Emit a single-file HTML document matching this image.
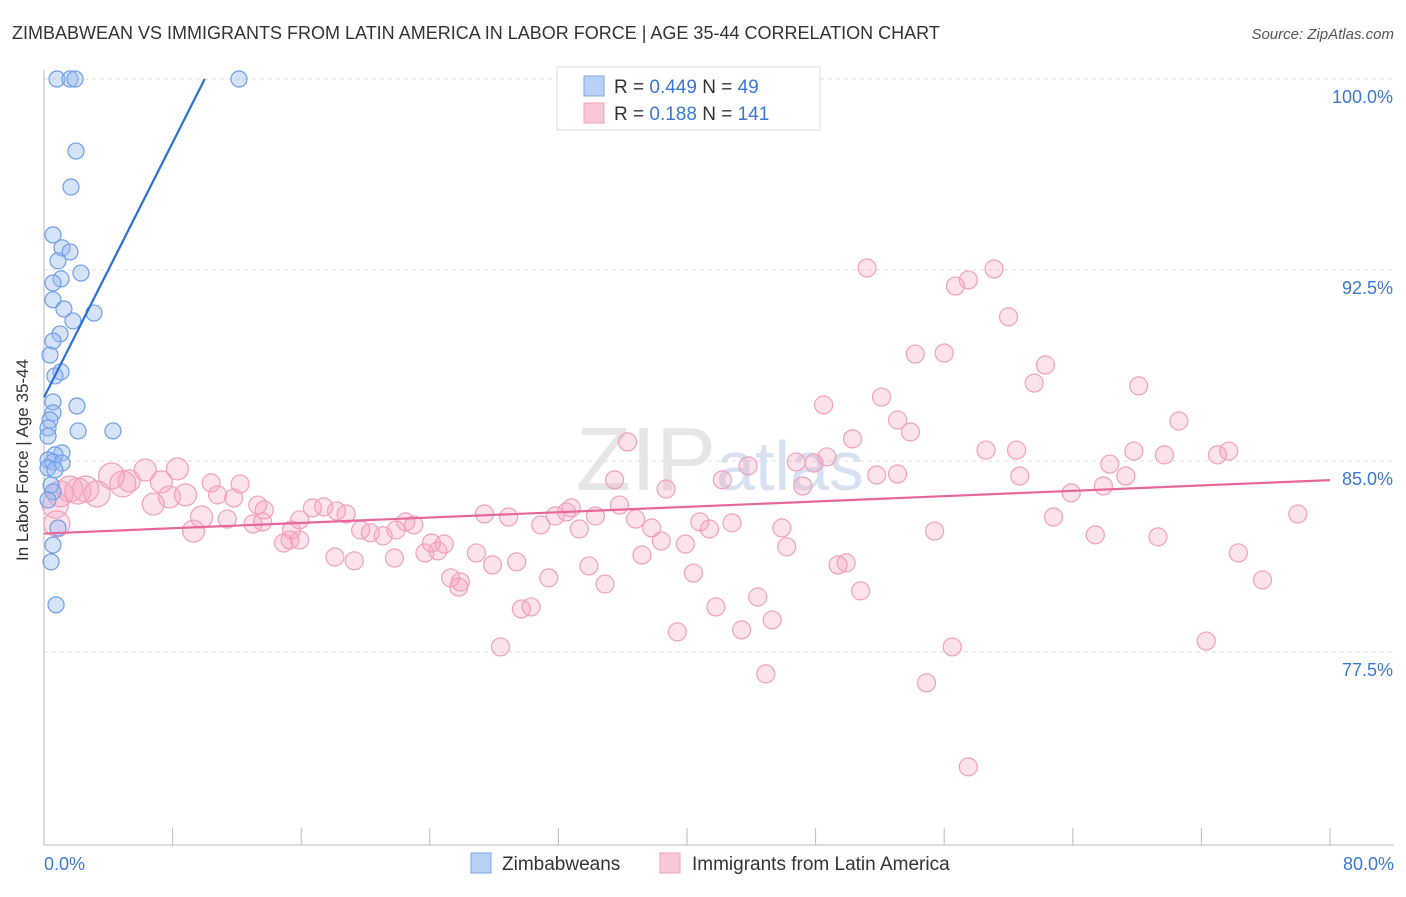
<!DOCTYPE html>
<html><head><meta charset="utf-8"><style>
body{margin:0;background:#fff;font-family:"Liberation Sans",sans-serif;}
svg text{font-family:"Liberation Sans",sans-serif;}
</style></head><body>
<svg id="chart" width="1406" height="892">
<text x="12" y="39" font-size="18" fill="#333">ZIMBABWEAN VS IMMIGRANTS FROM LATIN AMERICA IN LABOR FORCE | AGE 35-44 CORRELATION CHART</text>
<text x="1394" y="39" font-size="15" fill="#555" font-style="italic" text-anchor="end">Source: ZipAtlas.com</text>
<text x="720" y="490" font-size="90" fill="#e6e6e6" text-anchor="middle" font-family="Liberation Serif">ZIP<tspan font-family="Liberation Sans" font-size="70" fill="#d6e2f2">atlas</tspan></text>
<g id="grid"></g>
<g id="axes"></g>
<g id="pink"></g>
<g id="blue"></g>
<g id="lines"></g>
<text x="28" y="460" font-size="17" fill="#333" text-anchor="middle" transform="rotate(-90 28 460)">In Labor Force | Age 35-44</text>
<g>
<rect x="557" y="67" width="263" height="63" fill="#fff" stroke="#ddd"/>
<rect x="584" y="76" width="20" height="20" fill="#b9d1f5" stroke="#7aa6e8"/>
<rect x="584" y="103" width="20" height="20" fill="#f9c8d7" stroke="#f0a0bb"/>
<text x="614" y="93" font-size="19" fill="#333">R = <tspan fill="#3a78d4">0.449</tspan>   N = <tspan fill="#3a78d4"> 49</tspan></text>
<text x="614" y="120" font-size="19" fill="#333">R =  <tspan fill="#3a78d4">0.188</tspan>   N = <tspan fill="#3a78d4">141</tspan></text>
</g>
<g>
<rect x="471" y="853" width="20" height="20" fill="#b9d1f5" stroke="#7aa6e8"/>
<text x="502" y="870" font-size="19" fill="#333">Zimbabweans</text>
<rect x="660" y="853" width="20" height="20" fill="#f9c8d7" stroke="#f0a0bb"/>
<text x="692" y="870" font-size="19" fill="#333">Immigrants from Latin America</text>
</g>
</svg>
<script>
const yTicks=[100,92.5,85,77.5];
const yTickLabels=["100.0%","92.5%","85.0%","77.5%"];
const xTickLabels=["0.0%","80.0%"];
const blueX=[0.81,1.62,1.93,12.13,1.99,1.68,0.56,1.12,1.62,0.87,2.30,1.06,0.56,0.56,1.24,3.11,1.80,1.00,0.56,0.37,1.06,0.68,0.56,2.05,0.56,0.37,0.25,2.12,4.29,0.25,1.12,0.68,0.25,0.56,1.12,0.25,0.68,0.44,0.56,0.25,0.87,0.56,0.44,0.75];
const blueY=[100,100,100,100,97.17,95.76,93.88,93.37,93.21,92.86,92.38,92.15,91.99,91.33,90.97,90.81,90.50,89.99,89.71,89.16,88.50,88.34,87.32,87.16,86.89,86.61,86.30,86.18,86.18,85.98,85.32,85.24,85.04,84.96,84.92,84.73,84.65,84.06,83.79,83.47,82.37,81.70,81.04,79.35];
const pinkX=[51.2,57.5,56.7,59.1,60.0,54.2,56.0,62.3,61.6,68.1,52.1,48.5,53.1,70.6,53.9,50.3,36.3,58.6,60.5,73.7,73.0,67.8,69.7,48.7,46.8,47.9,66.3,43.8,51.8,53.1,60.7,67.3,42.2,35.5,47.2,65.9,38.7,63.9,35.8,32.5,32.8,27.4,28.9,34.3,31.8,36.8,40.8,42.8,62.8,78.0,41.4,45.9,37.8,30.9,33.3,55.4,65.4,69.3,38.4,39.9,46.2,37.2,33.9,31.4,34.9,40.4,29.4,27.9,26.9,49.4,49.9,50.8,44.4,41.8,45.3,29.7,30.3,39.4,43.4,56.5,28.4,72.3,44.9,54.9,57.5,74.3,75.8,25.3,25.8,25.9,24.1,24.9,23.0,22.5,21.9,21.1,20.3,19.7,18.8,18.2,17.4,16.7,15.9,15.4,15.3,14.9,13.3,13.7,13.0,11.8,11.4,10.8,10.4,9.8,9.3,8.8,7.8,7.3,6.8,6.3,8.3,5.3,4.9,4.2,3.3,2.6,2.1,1.6,1.0,0.7,0.8,12.2,13.6,15.9,18.1,19.3,21.8,23.7,24.5];
const pinkY=[92.58,92.11,91.87,92.54,90.66,89.20,89.24,88.77,88.06,87.95,87.51,87.20,86.61,86.57,86.14,85.87,85.75,85.43,85.43,85.39,85.24,85.39,85.24,85.16,84.96,84.92,84.88,84.81,84.45,84.49,84.41,84.41,84.26,84.26,84.02,84.02,83.90,83.75,83.27,83.00,83.16,82.92,82.80,82.84,82.84,82.72,82.61,82.57,82.80,82.92,82.33,82.37,82.37,82.49,82.33,82.25,82.10,82.02,81.86,81.74,81.63,81.31,80.88,80.41,80.17,80.60,81.04,80.92,81.39,80.92,81.00,79.90,79.66,79.27,78.76,79.19,79.27,78.29,78.37,77.70,77.70,77.93,76.64,76.29,72.99,81.39,80.33,80.41,80.05,80.25,81.78,81.74,82.49,82.61,82.29,82.06,82.18,82.29,82.92,83.04,83.20,83.16,81.90,82.29,81.90,81.78,83.27,83.08,82.53,83.55,82.72,83.67,84.14,82.80,82.25,83.67,83.59,84.18,83.31,84.65,84.69,84.22,84.10,84.41,83.71,83.90,83.82,83.90,83.71,83.27,82.53,84.10,82.61,82.69,81.23,81.08,81.19,81.39,81.47];
const blueTrend=[[0,87.5],[10,100]];
const pinkTrend=[[0,82.15],[80,84.25]];
const NS="http://www.w3.org/2000/svg";
const X=v=>44+v*16.075, Y=v=>79+(100-v)*25.467;
function mk(tag,attrs,parent){const e=document.createElementNS(NS,tag);for(const k in attrs)e.setAttribute(k,attrs[k]);document.getElementById(parent).appendChild(e);return e;}
yTicks.forEach((t,i)=>{
 const g=mk('line',{x1:44,x2:1394,y1:Y(t),y2:Y(t),stroke:'#ddd','stroke-dasharray':'4 4'},'grid');
 
 
 const tx=mk('text',{x:1393,y:Y(t)+24,'font-size':18,fill:'#3a78d4','text-anchor':'end'},'axes');
 tx.textContent=yTickLabels[i];
 
 
});
const ax=mk('line',{x1:44,x2:1394,y1:845,y2:845,stroke:'#bbb'},'axes');


const ay=mk('line',{x1:44,x2:44,y1:70,y2:845,stroke:'#bbb'},'axes');


for(let i=0;i<=10;i++){
 const t=mk('line',{x1:X(i*8),x2:X(i*8),y1:828,y2:845,stroke:'#bbb'},'axes');
 
 
}
[[0,'start',44],[80,'end',1394]].forEach((d,i)=>{
 const t=mk('text',{x:d[2],y:870,'font-size':18,fill:'#3a78d4','text-anchor':d[1]},'axes');
 t.textContent=xTickLabels[i];
 
 
});
pinkX.forEach((x,i)=>{
 const r=x<5?13:(x<10?11:9);
 const c=mk('circle',{cx:X(x),cy:Y(pinkY[i]),r:r,fill:'rgba(245,160,190,0.3)',stroke:'#f0a0bb','stroke-width':1.2},'pink');
 
 
});
blueX.forEach((x,i)=>{
 const c=mk('circle',{cx:X(x),cy:Y(blueY[i]),r:8,fill:'rgba(150,185,240,0.4)',stroke:'#6f9de6','stroke-width':1.2},'blue');
 
 
});
const bl=mk('line',{x1:X(blueTrend[0][0]),y1:Y(blueTrend[0][1]),x2:X(blueTrend[1][0]),y2:Y(blueTrend[1][1]),stroke:'#2a6fd6','stroke-width':2.2},'lines');


const pl=mk('line',{x1:X(pinkTrend[0][0]),y1:Y(pinkTrend[0][1]),x2:X(pinkTrend[1][0]),y2:Y(pinkTrend[1][1]),stroke:'#e8679a','stroke-width':2.2},'lines');


</script>
</body></html>
